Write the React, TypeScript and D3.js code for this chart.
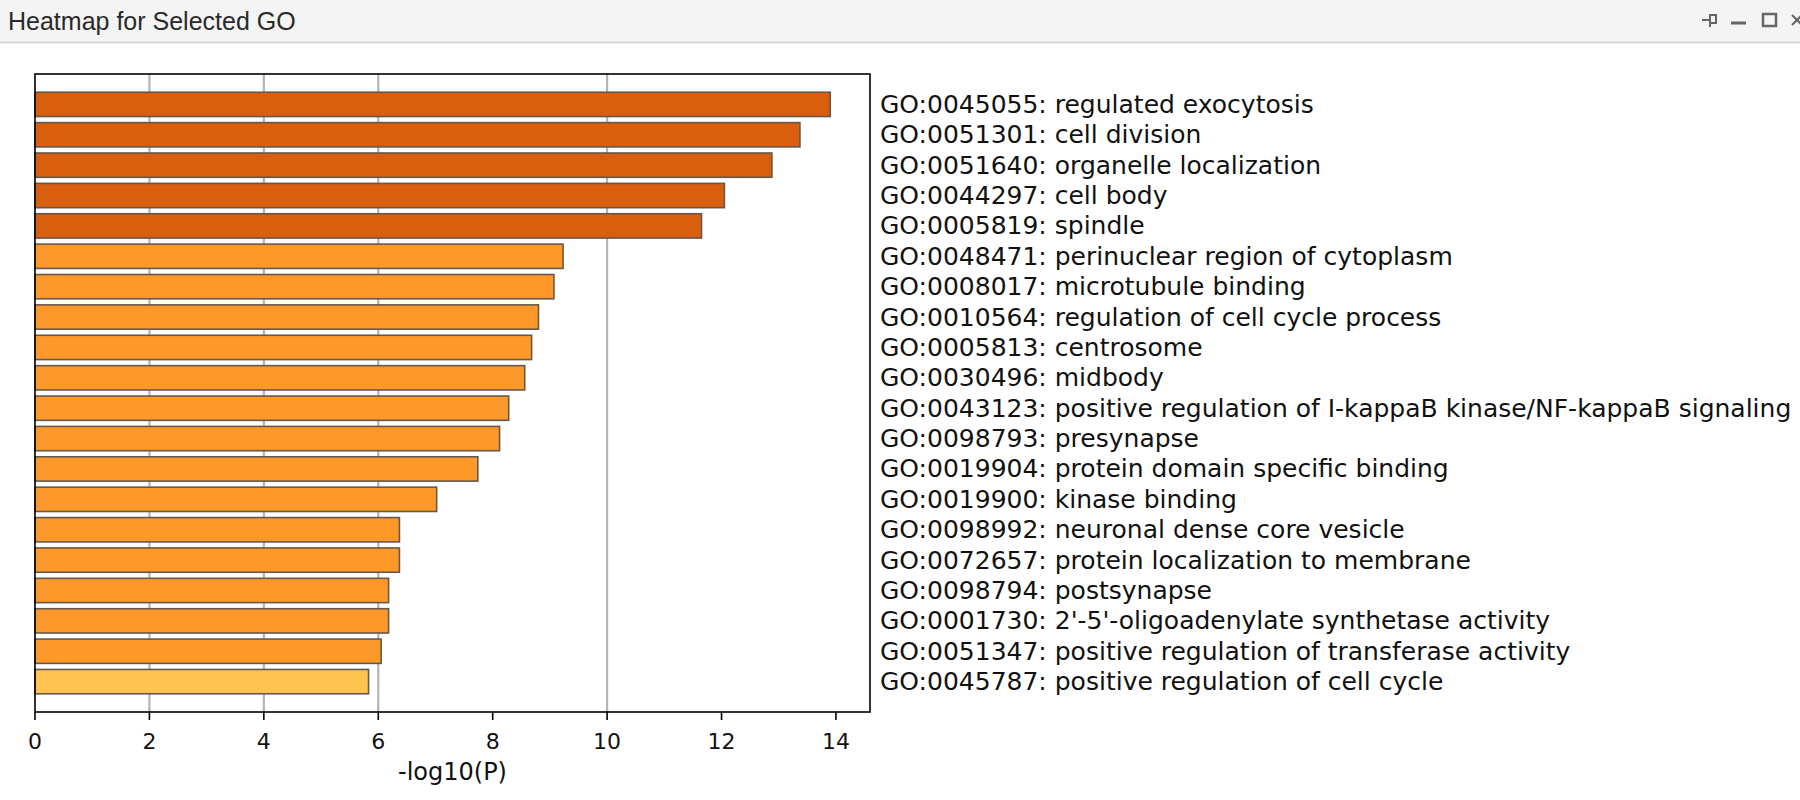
import React from "react";
import * as d3 from "d3";

const terms = [
  "GO:0045055: regulated exocytosis",
  "GO:0051301: cell division",
  "GO:0051640: organelle localization",
  "GO:0044297: cell body",
  "GO:0005819: spindle",
  "GO:0048471: perinuclear region of cytoplasm",
  "GO:0008017: microtubule binding",
  "GO:0010564: regulation of cell cycle process",
  "GO:0005813: centrosome",
  "GO:0030496: midbody",
  "GO:0043123: positive regulation of I-kappaB kinase/NF-kappaB signaling",
  "GO:0098793: presynapse",
  "GO:0019904: protein domain specific binding",
  "GO:0019900: kinase binding",
  "GO:0098992: neuronal dense core vesicle",
  "GO:0072657: protein localization to membrane",
  "GO:0098794: postsynapse",
  "GO:0001730: 2'-5'-oligoadenylate synthetase activity",
  "GO:0051347: positive regulation of transferase activity",
  "GO:0045787: positive regulation of cell cycle",
];

const values = [
  13.9, 13.37, 12.88, 12.05, 11.65, 9.23, 9.07, 8.8, 8.68, 8.56, 8.28, 8.12,
  7.74, 7.02, 6.37, 6.37, 6.18, 6.18, 6.05, 5.83,
];

// color level per bar: 0 = dark, 1 = mid, 2 = light
const levels = [0, 0, 0, 0, 0, 1, 1, 1, 1, 1, 1, 1, 1, 1, 1, 1, 1, 1, 1, 2];
const levelColors = ["#D95F0E", "#FE9929", "#FEC44F"];

const xTicks = [0, 2, 4, 6, 8, 10, 12, 14];
const gridTicks = [2, 4, 6, 10];

const title = "Heatmap for Selected GO";
const xLabel = "-log10(P)";

const W = 1800;
const H = 800;
const L = 35, R = 870, T = 74, B = 712;

export default function App() {
  const x = d3.scaleLinear().domain([0, (d3.max(values) as number) * 1.05]).range([L, R]);
  const y = d3.scaleLinear().domain([-1, terms.length]).range([T, B]);
  const font = "'DejaVu Sans', sans-serif";
  return (
    <svg width={W} height={H} style={{ display: "block", position: "fixed", left: 0, top: 0 }}>
      <rect x={0} y={0} width={W} height={H} fill="#ffffff" />
      {/* title bar */}
      <rect x={0} y={0} width={W} height={42.5} fill="#f4f4f4" />
      <line x1={0} x2={W} y1={42.5} y2={42.5} stroke="#cfcfcf" strokeWidth={1.5} />
      <text x={8} y={21} dominantBaseline="central" fontFamily="'Liberation Sans', Arial, sans-serif" fontSize={25} fill="#2a2a2a">
        {title}
      </text>
      {/* window icons */}
      <g stroke="#666" fill="none" strokeWidth={2}>
        <line x1={1702} x2={1710} y1={20} y2={20} />
        <rect x={1710} y={15} width={6} height={8} />
        <line x1={1710} x2={1710} y1={15} y2={27} />
        <line x1={1731} x2={1746} y1={23} y2={23} strokeWidth={3} />
        <rect x={1763} y={14} width={13} height={12} strokeWidth={2.5} />
        <line x1={1792} x2={1802} y1={15} y2={25} />
        <line x1={1792} x2={1802} y1={25} y2={15} />
      </g>
      {/* grid */}
      {gridTicks.map((t) => (
        <line key={"g" + t} x1={x(t)} x2={x(t)} y1={T} y2={B} stroke="#b4b4b4" strokeWidth={2.2} />
      ))}
      {/* bars */}
      {values.map((v, i) => (
        <rect
          key={"b" + i}
          x={x(0)}
          y={y(i - 0.4)}
          width={x(v) - x(0)}
          height={y(i + 0.4) - y(i - 0.4)}
          fill={levelColors[levels[i]]}
          stroke="#66574c"
          strokeWidth={1.6}
        />
      ))}
      {/* frame */}
      <rect x={L} y={T} width={R - L} height={B - T} fill="none" stroke="#000" strokeWidth={1.6} />
      {/* x ticks */}
      {xTicks.map((t) => (
        <g key={"t" + t}>
          <line x1={x(t)} x2={x(t)} y1={B} y2={B + 8} stroke="#000" strokeWidth={1.6} />
          <text x={x(t)} y={741} textAnchor="middle" dominantBaseline="central" fontFamily={font} fontSize={22} fill="#111">
            {t}
          </text>
        </g>
      ))}
      <text x={(L + R) / 2} y={772} textAnchor="middle" dominantBaseline="central" fontFamily={font} fontSize={24} fill="#111">
        {xLabel}
      </text>
      {/* labels */}
      {terms.map((s, i) => (
        <text key={"l" + i} x={880} y={y(i)} dominantBaseline="central" fontFamily={font} fontSize={25} fill="#111">
          {s}
        </text>
      ))}
    </svg>
  );
}
